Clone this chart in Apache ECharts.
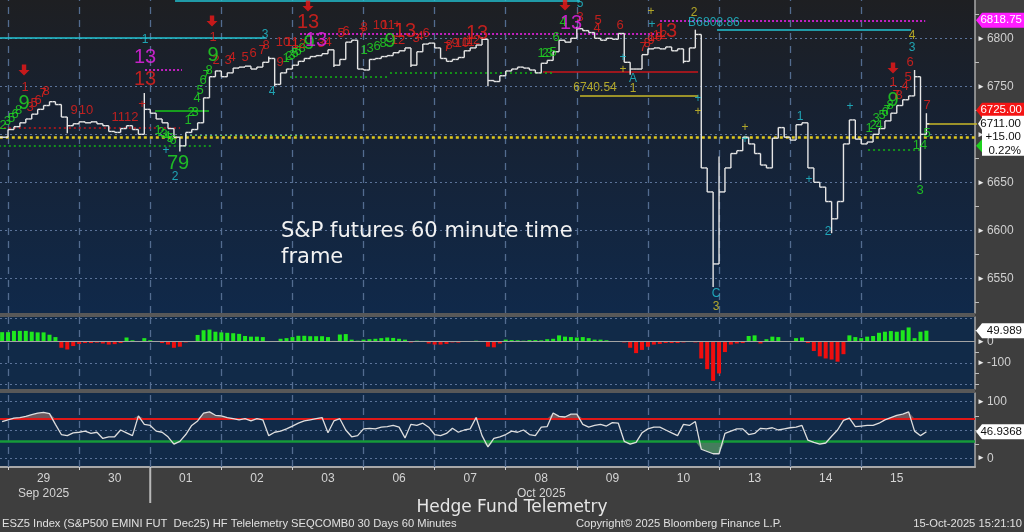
<!DOCTYPE html>
<html><head><meta charset="utf-8">
<script src="https://cdn.jsdelivr.net/npm/echarts@6/dist/echarts.min.js"></script>
<style>html,body{margin:0;padding:0;background:#3e3e3e;overflow:hidden}#c{width:1024px;height:532px}</style>
</head><body><div id="c"></div>
<script>
// ---------------- DATA ----------------
const dayLabels = ['29','30','01','02','03','06','07','08','09','10','13','14','15'];
const monthLabels = ['Sep 2025','','','','','','','Oct 2025','','','','',''];
const priceTicks = [6550, 6600, 6650, 6700, 6750, 6800];
const histTicks = [0, -100];
const histGrid = [110, -100, -200];
const oscTicks = [100, 0];
const oscGrid = [100, 50, 0];
const barsPerDay = 12; // 2-hour bars, first value is the last bar of the previous session

const close = [6697,
 6705,6708,6712,6716,6721,6726,6730,6734,6731,6718,6709,6711,
 6713,6712,6713,6711,6709,6703,6702,6706,6709,6705,6700,6726,
 6722,6716,6712,6706,6697,6688,6702,6705,6712,6738,6760,6766,
 6760,6764,6769,6770,6771,6768,6770,6775,6779,6752,6764,6768,
 6772,6776,6779,6781,6782,6784,6788,6772,6778,6796,6798,6768,
 6767,6778,6779,6781,6782,6785,6787,6790,6772,6786,6794,6795,
 6790,6779,6776,6778,6780,6787,6790,6793,6799,6756,6755,6761,
 6766,6768,6770,6769,6767,6764,6774,6777,6786,6798,6796,6800,
 6810,6808,6806,6800,6798,6800,6799,6805,6775,6768,6768,6783,
 6789,6790,6789,6791,6787,6789,6776,6790,6804,6665,6640,6565,
 6640,6665,6680,6683,6697,6690,6680,6668,6665,6696,6707,6697,
 6694,6710,6712,6665,6650,6645,6630,6612,6630,6690,6715,6695,
 6690,6692,6700,6706,6714,6722,6730,6736,6740,6760,6700,6711];
// [day, bar, low, high] extremes beyond open/close
const spikes = [[0,10,6701,null],[1,11,null,6743],[2,5,6682,null],[3,8,null,6781],[3,9,6750,null],
 [4,7,6770,null],[5,8,6770,null],[6,8,null,6801],[6,9,6750,null],[8,0,null,6812],[8,9,6762,null],
 [9,6,6774,null],[9,8,null,6809],[9,11,6541,6604],[10,0,null,6677],[11,7,6597,null],
 [12,9,null,6767],[12,10,6652,null],[12,11,null,6722]];

const hist = [43,
 43,49,49,49,45,42,42,31,20,-30,-38,-22,
 -12,-8,-8,-6,-10,-15,-13,-8,18,5,0,15,
 5,-3,-8,-15,-30,-25,-5,0,30,52,55,45,
 42,40,38,35,25,22,22,20,-3,-3,12,15,
 20,26,26,24,24,24,20,2,32,34,8,3,
 8,10,12,15,18,16,12,8,-5,3,2,-10,
 -15,-15,-12,-5,-6,0,0,3,0,-25,-28,-10,
 8,6,5,3,6,6,5,10,12,28,22,20,
 18,20,15,8,8,5,0,0,-5,-30,-55,-40,
 -25,-15,-12,-8,-8,-8,-5,-3,-5,-80,-130,-185,
 -150,-50,-15,-10,-8,25,28,-10,10,22,20,0,
 -2,15,18,-8,-45,-70,-80,-85,-95,-60,28,20,
 15,22,25,40,45,48,45,52,65,15,45,49.989];

const osc = [65,
 68,71,72,74,77,80,81,79,60,42,40,45,
 46,48,44,46,35,38,38,50,45,40,75,60,
 58,48,46,38,25,30,42,58,66,80,82,76,
 75,72,70,68,70,66,70,68,40,46,48,52,
 57,62,66,68,70,72,45,66,70,50,38,40,
 52,53,52,55,56,58,55,36,60,58,62,55,
 42,40,44,53,46,50,52,72,40,20,35,38,
 42,48,46,50,42,40,55,56,80,74,73,78,
 78,60,55,58,60,57,63,62,30,25,28,45,
 52,55,55,50,45,40,60,58,65,16,12,8,
 8,44,48,52,52,42,44,53,52,54,50,52,
 54,55,58,32,28,25,27,39,50,67,71,56,
 57,58,58,62,68,72,76,78,82,48,40,46.9368];
const oscUpper = 70, oscLower = 30;

// annotations [day, price, text]
const redSmall = [
 [0.239,6749.3,'1'],[0.309,6728.4,'3'],[0.366,6732.6,'5'],[0.422,6735.7,'6'],[0.492,6743,'7'],[0.534,6745.1,'8'],
 [0.928,6725.3,'9'],[1.097,6725.3,'10'],[1.646,6718,'1112'],[1.885,6731.6,'+'],
 [2.883,6801.4,'1'],[2.925,6777.4,'2'],[3.094,6777.4,'3'],[3.15,6780.5,'4'],[3.333,6780.5,'5'],[3.446,6784.7,'6'],[3.572,6787.8,'7'],[3.629,6793,'8'],
 [3.826,6775.3,'9'],[3.868,6796.2,'10'],[3.994,6796.2,'11'],[4.093,6794.1,'12'],
 [4.402,6795.1,'3'],[4.501,6796.2,'4'],[4.684,6805.5,'5'],[4.754,6807.6,'6'],[4.979,6805.5,'7'],[5.007,6811.8,'8'],
 [5.232,6813.9,'10'],[5.345,6813.9,'11'],[5.471,6814.9,'+'],[5.485,6798.2,'12'],
 [5.738,6800.3,'3'],[5.795,6802.4,'4'],[5.879,6805.5,'6'],
 [6.174,6790.9,'7'],[6.203,6793,'8'],[6.287,6795.1,'9'],[6.385,6795.1,'10'],[6.47,6796.2,'11'],[6.54,6798.2,'12'],
 [8.045,6822.2,'3'],[8.284,6810.7,'4'],[8.298,6819.1,'5'],[8.608,6813.9,'6'],
 [8.931,6790.9,'7'],[8.987,6795.1,'8'],[9.044,6798.2,'9'],[9.1,6801.4,'10'],[9.17,6803.4,'12'],
 [12.489,6740.9,'7'],[12.532,6740.9,'8'],[12.447,6754.5,'1'],[12.616,6750.3,'4'],[12.658,6759.7,'5'],[12.686,6775.3,'6'],[12.925,6730.5,'7']];
const redBig = [[1.927,6756.6,'13'],[4.219,6817,'13'],[5.584,6806.6,'13'],[6.596,6805.5,'13'],[9.255,6806.6,'13']];
const magentaBig = [[1.927,6780.5,'13'],[4.332,6798.2,'13'],[7.918,6815.9,'13']];
const greenSmall = [
 [-0.07,6709,'2'],[-0.01,6713,'3'],[0.05,6717,'5'],[0.1,6721,'6'],[0.15,6725,'8'],
 [2.11,6704.5,'1'],[2.152,6702.4,'2'],[2.194,6700.3,'3'],[2.236,6698.2,'4'],[2.278,6696.1,'5'],[2.321,6694.1,'6'],
 [2.532,6714.9,'1'],[2.574,6723.2,'2'],[2.63,6723.2,'3'],[2.658,6737.8,'4'],[2.7,6746.1,'5'],[2.743,6756.6,'6'],[2.785,6761.8,'7'],[2.827,6767,'8'],
 [3.91,6779.5,'1'],[3.952,6781.6,'2'],[3.994,6782.6,'3'],[4.036,6784.7,'5'],[4.079,6786.8,'6'],[4.135,6789.9,'8'],
 [5.007,6787.8,'1'],[5.091,6789.9,'3'],[5.19,6792,'6'],[5.274,6795.1,'8'],
 [7.496,6784.7,'1'],[7.553,6784.7,'2'],[7.609,6784.7,'3'],[7.665,6785.7,'5'],[7.707,6801.4,'6'],[7.806,6817,'4'],
 [12.11,6706.6,'1'],[12.166,6709.7,'2'],[12.208,6717,'3'],[12.25,6709.7,'4'],[12.293,6720.1,'5'],[12.335,6723.2,'6'],[12.363,6725.3,'7'],[12.405,6730.5,'8'],
 [12.925,6701.4,'5'],[12.827,6688.9,'14'],[12.827,6642,'3']];
const greenBig = [[0.225,6731.6,'9'],[2.391,6670.1,'79'],[2.883,6782.6,'9'],[4.233,6795.1,'9'],[5.373,6797.2,'9'],[12.447,6735.7,'9']];
const cyanSmall = [[1.927,6798.2,'1'],[2.349,6655.5,'2'],[3.615,6803.4,'3'],[3.713,6744.1,'4'],[8.045,6835.7,'5'],[8.79,6757.6,'A'],[9.62,6815.9,'B'],[9.958,6533.6,'C'],[11.139,6718,'1'],[11.533,6598.2,'2'],[12.714,6789.9,'3'],
 [2.222,6682.6,'+'],[8.65,6779.5,'+'],[9.058,6813.9,'+'],[9.705,6736.8,'+'],[10.366,6694.1,'+'],[11.266,6652.4,'+'],[11.842,6728.4,'+']];
const yellowSmall = [[8.79,6747.2,'1'],[9.648,6826.4,'2'],[9.958,6520.1,'3'],[12.714,6802.4,'4'],[8.65,6767,'+'],[9.044,6827.4,'+'],[9.705,6723.2,'+'],[10.366,6706.6,'+']];
const yellowLevelText = [[8.256,6748.2,'6740.54']];
const cyanLevelText = [[9.986,6815.9,'6808.86']];
const arrows = [[0.225,6767],[2.869,6818],[4.219,6833.6],[7.834,6834.7],[12.447,6769.1]];

// level lines [fromDay, toDay, price]
const cyanSolid = [[-0.2,3.615,6801],[2.349,8.045,6839],[9.972,12.7,6808.86]];
const magentaDotted = [[1.927,2.447,6767],[4.107,9.17,6804.4],[9.17,12.9,6818.75]];
const redSolid = [[7.525,9.705,6765.4]];
const yellowSolid = [[8.045,9.705,6740.54],[12.925,13.7,6711]];
const greenSolid = [[2.068,2.827,6725]];
const redDotted = [[-0.2,2.42,6706.6]];
const greenDotted = [[-0.2,2.87,6688],[3.966,5.372,6759.7],[5.372,7.693,6763.8],[12.096,12.855,6683.6]];
const lightGreenDotted = [[2.49,4.18,6699.2]];
const yellowDotted = [[-0.2,13.7,6696.7]];

// right-axis value tags
const priceTags = [[6818.75,'6818.75'],[6725.00,'6725.00']];
const lastPrice = 6711.00, netChange = '+15.00', pctChange = '0.22%';
const greenTag = 6688;
const histLast = 49.989, oscLast = 46.9368;

const title = 'S&P futures 60 minute time\nframe';
const footerLeft = 'ESZ5 Index (S&P500 EMINI FUT  Dec25) HF Telelemetry SEQCOMB0 30 Days 60 Minutes';
const footerMid = 'Copyright\u00a9 2025 Bloomberg Finance L.P.';
const footerRight = '15-Oct-2025 15:21:10';
const brand = 'Hedge Fund Telemetry';

// ---------------- BUILD ----------------
const X_MIN = -0.113, X_MAX = 13.6;
const Y_RANGE = [[6513.9, 6839.9], [-222.6, 113.8], [-15.4, 115.4]];
const STEP = 1 / barsPerDay;
const xs = close.map((_, i) => (i - 1) * STEP);
const ohlc = close.map((c, i) => {
  const o = i ? close[i - 1] : c;
  return [xs[i], o, c, Math.min(o, c), Math.max(o, c)];
});
spikes.forEach(([d, k, lo, hi]) => {
  const r = ohlc[1 + d * barsPerDay + k];
  if (lo != null) r[3] = Math.min(r[3], lo);
  if (hi != null) r[4] = Math.max(r[4], hi);
});
const dayIdx = dayLabels.map((_, i) => i);

const COL = {r:'#e8201c', g:'#22e022', m:'#ee22ee', c:'#22c4d4', y:'#d8c828'};
const FONT = 'Liberation Sans';

function annot(arr, color, size, z) {
  return {type:'scatter', xAxisIndex:0, yAxisIndex:0, symbolSize:1, z:z||6, silent:true,
    itemStyle:{color:'transparent'},
    label:{show:true, position:'inside', formatter:'{b}', color, fontSize:size, fontFamily:FONT},
    data: arr.map(a => ({name:a[2], value:[a[0], a[1]]}))};
}
function segs(axis, data, color, width, type, z) {
  return {type:'lines', coordinateSystem:'cartesian2d', xAxisIndex:axis, yAxisIndex:axis, silent:true, z:z||3,
    lineStyle:{color, width, type, opacity:1}, data};
}
const hSegs = arr => arr.map(([a, b, p]) => ({coords:[[a, p], [b, p]]}));
const dayVerts = axis => dayIdx.map(d => ({coords:[[d, Y_RANGE[axis][0]], [d, Y_RANGE[axis][1]]]}));
const hFull = vals => vals.map(v => ({coords:[[X_MIN, v], [X_MAX, v]]}));
const DAYC = '#536c90', GRIDC = '#5b7399';

const axisLabelRich = {
  color:'#cfcfcf', fontSize:12, fontFamily:FONT, margin:2,
  formatter: v => '{t|\u25BA}{v|' + v + '}',
  rich:{t:{fontSize:8, color:'#e8e8e8', padding:[0,2,0,0]}, v:{fontSize:12, color:'#cfcfcf', fontFamily:FONT}}
};

const chart = echarts.init(document.getElementById('c'), null, {renderer:'canvas'});
const bgMain = new echarts.graphic.LinearGradient(0,0,0,1,[
  {offset:0, color:'#1e1f22'}, {offset:0.35, color:'#172131'}, {offset:1, color:'#10294a'}]);

const yAxisBase = i => ({type:'value', gridIndex:i, position:'right', min:Y_RANGE[i][0], max:Y_RANGE[i][1],
  axisLine:{show:true, onZero:false, lineStyle:{color:'#a8a8a8', width:1.5}}, splitLine:{show:false}});

const option = {
  backgroundColor:'#3e3e3e',
  animation:false,
  grid:[
    {left:0, right:49, top:0, height:313, show:true, backgroundColor:bgMain, borderWidth:0},
    {left:0, right:49, top:317, height:72, show:true, backgroundColor:'#112a48', borderWidth:0},
    {left:0, right:49, top:393, height:74, show:true, backgroundColor:'#112a48', borderWidth:0}
  ],
  xAxis:[0,1,2].map(i => ({
    type:'value', gridIndex:i, min:X_MIN, max:X_MAX,
    axisLine:{show:i===2, onZero:false, lineStyle:{color:'#a8a8a8', width:2}},
    axisTick:i===2 ? {show:true, customValues:dayIdx, length:3, lineStyle:{color:'#d0d0d0'}} : {show:false},
    splitLine:{show:false},
    axisLabel:i===2 ? {show:true, customValues:dayIdx.map(d => d + 0.5), color:'#d4d4d4', fontSize:12, fontFamily:FONT,
      lineHeight:15, margin:4,
      formatter: v => { const k = Math.round(v - 0.5); return monthLabels[k] ? dayLabels[k] + '\n' + monthLabels[k] : dayLabels[k]; }} : {show:false}
  })),
  yAxis:[
    Object.assign(yAxisBase(0), {
     axisTick:{show:true, customValues:[6525,6575,6625,6675,6725,6775,6825], length:4, lineStyle:{color:'#bdbdbd'}},
     axisLabel:Object.assign({customValues:priceTicks}, axisLabelRich)}),
    Object.assign(yAxisBase(1), {
     axisTick:{show:true, customValues:[50,-50,-150,-200], length:4, lineStyle:{color:'#bdbdbd'}},
     axisLabel:Object.assign({customValues:histTicks}, axisLabelRich)}),
    Object.assign(yAxisBase(2), {
     axisTick:{show:true, customValues:[75,50,25], length:4, lineStyle:{color:'#bdbdbd'}},
     axisLabel:Object.assign({customValues:oscTicks}, axisLabelRich)})
  ],
  series:[
    segs(0, dayVerts(0), DAYC, 1.3, [7,6], 1),
    segs(0, hFull(priceTicks), GRIDC, 1, [2,3], 1),
    segs(0, hSegs(yellowDotted), '#e0c81e', 2.5, [3,3], 2),
    segs(0, hSegs(cyanSolid), '#22c4d4', 1.5, 'solid'),
    segs(0, hSegs(magentaDotted), '#c020c0', 2, [2,2]),
    segs(0, hSegs(redSolid), '#c8141a', 1.5, 'solid'),
    segs(0, hSegs(yellowSolid), '#c8b828', 1.5, 'solid'),
    segs(0, hSegs(greenSolid), '#18c818', 1.5, 'solid'),
    segs(0, hSegs(redDotted), '#c8141a', 1.5, [2,3]),
    segs(0, hSegs(greenDotted), '#14b414', 1.5, [2,3]),
    segs(0, hSegs(lightGreenDotted), '#5cc85c', 1, [2,3]),
    {type:'custom', xAxisIndex:0, yAxisIndex:0, z:4, silent:true,
     encode:{x:0, y:[1,2,3,4]}, data:ohlc,
     renderItem:(params, api) => {
       const x = api.value(0);
       const pL = api.coord([x, api.value(3)]), pH = api.coord([x, api.value(4)]);
       const po = api.coord([x, api.value(1)]), pc = api.coord([x, api.value(2)]);
       const hw = api.size([STEP, 0])[0] / 2;
       const st = () => ({stroke:'#e6e6e6', lineWidth:1.4});
       return {type:'group', children:[
         {type:'line', shape:{x1:pL[0], y1:pL[1], x2:pH[0], y2:pH[1]}, style:st()},
         {type:'line', shape:{x1:po[0]-hw, y1:po[1], x2:po[0], y2:po[1]}, style:st()},
         {type:'line', shape:{x1:pc[0], y1:pc[1], x2:pc[0]+hw, y2:pc[1]}, style:st()}]};
     }},
    annot(greenSmall, COL.g, 13),
    annot(redSmall, COL.r, 13),
    annot(cyanSmall, COL.c, 12),
    annot(yellowSmall, COL.y, 12),
    annot(yellowLevelText, COL.y, 12),
    annot(cyanLevelText, COL.c, 12),
    annot(greenBig, COL.g, 20, 7),
    annot(redBig, COL.r, 20, 7),
    annot(magentaBig, COL.m, 20, 8),
    {type:'scatter', xAxisIndex:0, yAxisIndex:0, z:8, silent:true,
     symbol:'path://M3,0 L7,0 L7,5 L10,5 L5,10 L0,5 L3,5 Z', symbolSize:[11,11],
     itemStyle:{color:'#f01818'}, data:arrows},
    segs(1, dayVerts(1), DAYC, 1.3, [7,6], 1),
    segs(1, hFull(histGrid), GRIDC, 1, [2,3], 1),
    segs(1, hFull([0]), '#a4a4a4', 1.2, 'solid', 4),
    {type:'bar', xAxisIndex:1, yAxisIndex:1, barWidth:4, silent:true, z:3,
     data:hist.map((v, i) => ({value:[xs[i], v], itemStyle:{color: v >= 0 ? '#1ee81e' : '#f00e0e'}}))},
    segs(2, dayVerts(2), DAYC, 1.3, [7,6], 1),
    segs(2, hFull(oscGrid), GRIDC, 1, [2,3], 1),
    segs(2, hFull([oscUpper]), '#e01818', 2, 'solid', 3),
    segs(2, hFull([oscLower]), '#169a3a', 2.5, 'solid', 3),
    {type:'line', xAxisIndex:2, yAxisIndex:2, symbol:'none', silent:true, z:2,
     lineStyle:{width:0}, areaStyle:{origin:oscUpper, color:'rgba(170,120,110,0.85)'},
     data:osc.map((v, i) => [xs[i], Math.max(v, oscUpper)])},
    {type:'line', xAxisIndex:2, yAxisIndex:2, symbol:'none', silent:true, z:2,
     lineStyle:{width:0}, areaStyle:{origin:oscLower, color:'rgba(110,190,110,0.8)'},
     data:osc.map((v, i) => [xs[i], Math.min(v, oscLower)])},
    {type:'line', xAxisIndex:2, yAxisIndex:2, symbol:'none', silent:true, z:4,
     lineStyle:{color:'#dedede', width:1.3}, data:osc.map((v, i) => [xs[i], v])}
  ]
};
chart.setOption(option);

// ---------- decorations tied to axis values ----------
const py = (axis, v) => chart.convertToPixel({yAxisIndex:axis}, v);
const pxDay = d => chart.convertToPixel({xAxisIndex:2}, d);
const RIGHT = 975, W = 1024;
const TAGFONT = '11.5px ' + FONT;
function tag(y, h, fill, lines, textFill, z) {
  const els = [{type:'polygon', z:z, shape:{points:[[RIGHT+1,y],[RIGHT+7,y-h/2],[W,y-h/2],[W,y+h/2],[RIGHT+7,y+h/2]]}, style:{fill}}];
  lines.forEach((t, i) => els.push({type:'text', z:z+1, x:W-2, y:y - h/2 + 7.5 + i*13.3,
    style:{text:t, fill:textFill, font:TAGFONT, textAlign:'right', textVerticalAlign:'middle'}}));
  return els;
}
const gfx = [];
gfx.push({type:'rect', z:20, shape:{x:0, y:313, width:RIGHT, height:4}, style:{fill:'#585858'}});
gfx.push({type:'rect', z:20, shape:{x:0, y:389, width:RIGHT, height:4}, style:{fill:'#585858'}});
const xm = pxDay(2);
gfx.push({type:'line', z:20, shape:{x1:xm, y1:468, x2:xm, y2:503}, style:{stroke:'#b8b8b8', lineWidth:2}});
const yLast = py(0, lastPrice);
gfx.push(...tag(py(0, greenTag), 13, '#1ed21e', [''], '#000', 30));
gfx.push(...tag(py(0, priceTags[0][0]), 15, '#ff1cff', [priceTags[0][1]], '#ffffff', 32));
gfx.push(...tag(py(0, priceTags[1][0]), 15, '#f41414', [priceTags[1][1]], '#ffffff', 32));
gfx.push({type:'polygon', z:34, shape:{points:[[RIGHT+3,yLast],[RIGHT+7,yLast-6],[RIGHT+7,yLast-8],[W,yLast-8],[W,yLast+32],[RIGHT+7,yLast+32],[RIGHT+7,yLast+6]]}, style:{fill:'#ffffff'}});
[lastPrice.toFixed(2), netChange, pctChange].forEach((t, i) => gfx.push({type:'text', z:35, x:W-3, y:yLast + i*13.5,
  style:{text:t, fill:'#111', font:TAGFONT, textAlign:'right', textVerticalAlign:'middle'}}));
gfx.push(...tag(py(1, histLast), 15, '#ffffff', [String(histLast)], '#111', 32));
gfx.push(...tag(py(2, oscLast), 15, '#ffffff', [String(oscLast)], '#111', 32));
gfx.push({type:'text', z:40, x:281, y:219, style:{text:title, fill:'#f2f2f2', font:'21px "DejaVu Sans"', lineHeight:26, textAlign:'left', textVerticalAlign:'top'}});
gfx.push({type:'text', z:40, x:512, y:508, style:{text:brand, fill:'#e6e6e6', font:'17px "DejaVu Sans"', textAlign:'center', textVerticalAlign:'middle'}});
const FOOT = '11.2px ' + FONT;
gfx.push({type:'text', z:40, x:2, y:524, style:{text:footerLeft, fill:'#e0e0e0', font:FOOT, textAlign:'left', textVerticalAlign:'middle'}});
gfx.push({type:'text', z:40, x:576, y:524, style:{text:footerMid, fill:'#e0e0e0', font:FOOT, textAlign:'left', textVerticalAlign:'middle'}});
gfx.push({type:'text', z:40, x:1022, y:524, style:{text:footerRight, fill:'#e0e0e0', font:FOOT, textAlign:'right', textVerticalAlign:'middle'}});
chart.setOption({graphic:gfx});
</script></body></html>
